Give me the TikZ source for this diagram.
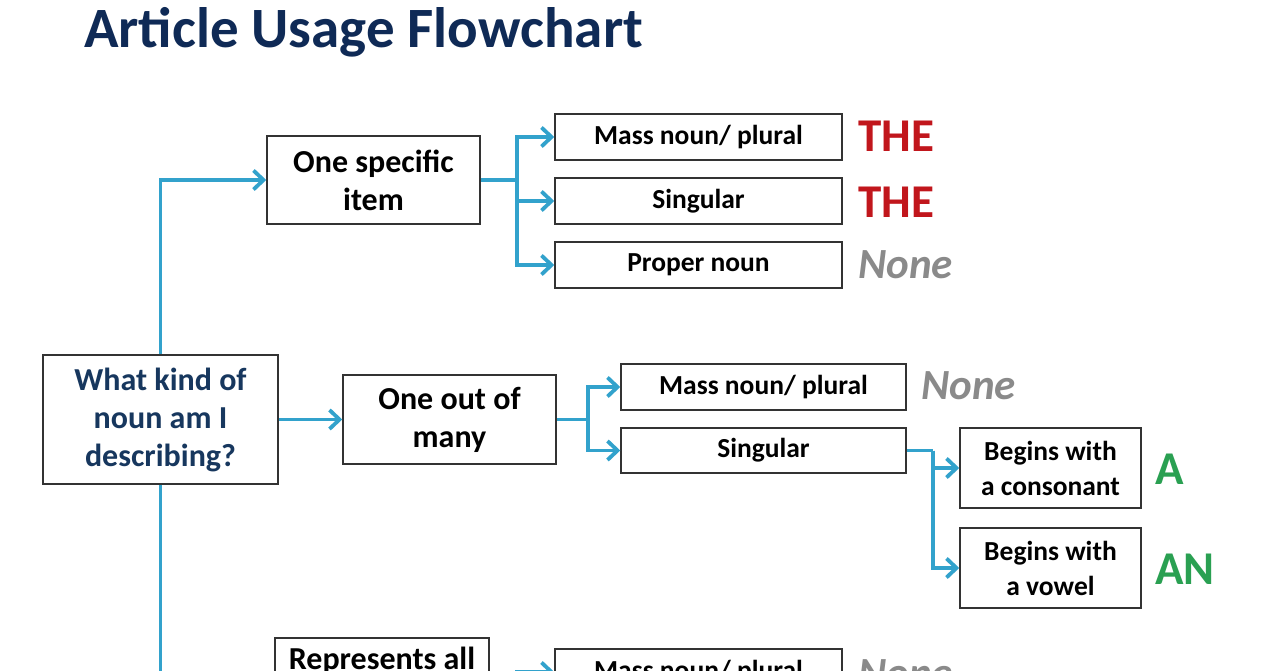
\documentclass[tikz,border=0pt]{standalone}
\usepackage{fontspec}
\setmainfont{Carlito}
\usetikzlibrary{arrows.meta}
\definecolor{navy}{HTML}{0F2A56}
\definecolor{qtext}{HTML}{17375E}
\definecolor{conn}{HTML}{32A2CC}
\definecolor{thered}{HTML}{C1161C}
\definecolor{nonegray}{HTML}{8A8A8A}
\definecolor{agreen}{HTML}{2AA052}
\definecolor{boxline}{HTML}{333333}
\begin{document}
\begin{tikzpicture}[x=1pt,y=-1pt,
  box/.style={draw=boxline,line width=1.5pt,fill=white,inner sep=0pt,align=center},
  big/.style={box,font=\fontsize{32}{38}\selectfont\bfseries},
  small/.style={box,font=\fontsize{27.5}{35}\selectfont\bfseries},
  link/.style={draw=conn,line width=3.8pt},
  arr/.style={link,-{Straight Barb[length=10pt,width=19pt]}},
  answer/.style={anchor=base west,inner sep=0pt,font=\fontsize{47}{47}\selectfont\bfseries},
  nonestyle/.style={anchor=base west,inner sep=0pt,text=nonegray,font=\fontsize{43}{43}\selectfont\bfseries\itshape}
]
\useasboundingbox (0,0) rectangle (1280,671);
\fill[white] (0,0) rectangle (1280,671);
\clip (0,0) rectangle (1280,671);

% title
\node[anchor=base west,inner sep=0pt,text=navy,font=\fontsize{57}{57}\selectfont\bfseries] (title) at (84,48) {Article Usage Flowchart};

% boxes
\node[big,text=qtext,minimum width=235pt,minimum height=129pt] (q) at (160.5,419.5) {What kind of\\noun am I\\describing?};
\node[big,minimum width=213pt,minimum height=88pt] (spec) at (373.5,180) {One specific\\item};
\node[small,minimum width=287pt,minimum height=46pt] (s1) at (698.5,137) {Mass noun/ plural};
\node[small,minimum width=287pt,minimum height=46pt] (s2) at (698.5,201) {Singular};
\node[small,minimum width=287pt,minimum height=46pt] (s3) at (698.5,265) {Proper noun};

\node[big,minimum width=213pt,minimum height=89pt] (many) at (449.5,419.5) {One out of\\many};
\node[small,minimum width=285pt,minimum height=46pt] (m1) at (763.5,387) {Mass noun/ plural};
\node[small,minimum width=285pt,minimum height=45pt] (m2) at (763.5,450.5) {Singular};
\node[small,minimum width=181pt,minimum height=80pt] (c1) at (1050.5,468) {Begins with\\a consonant};
\node[small,minimum width=181pt,minimum height=80pt] (c2) at (1050.5,568) {Begins with\\a vowel};

\node[big,minimum width=214pt,minimum height=90pt] (rep) at (382,683) {Represents all\\\strut};
\node[small,minimum width=287pt,minimum height=46pt] (r1) at (698.5,672) {Mass noun/ plural};

% answers
\node[answer,text=thered] (a1) at (858,152) {THE};
\node[answer,text=thered] (a2) at (858,218) {THE};
\node[nonestyle] (a3) at (858,278) {None};
\node[nonestyle] (a4) at (921,399) {None};
\node[answer,text=agreen] (a5) at (1155,484) {A};
\node[answer,text=agreen] (a6) at (1155,584) {AN};
\node[nonestyle] (a7) at (858,687) {None};

% connectors
\coordinate (j1) at (517,180);
\coordinate (j2) at (588,419.5);
\coordinate (j3) at (933,450.5);
\coordinate (j4) at (517,683);
\coordinate (qdown) at (160.5,720);

\draw[arr] (q.north) |- (spec.west);
\draw[link] (q.south) -- (qdown);
\draw[arr] (q.east) -- (many.west);

\draw[link] (spec.east) -- (j1);
\draw[arr] (j1) |- (s1.west);
\draw[arr] (j1) |- (s2.west);
\draw[arr] (j1) |- (s3.west);

\draw[link] (many.east) -- (j2);
\draw[arr] (j2) |- (m1.west);
\draw[arr] (j2) |- (m2.west);

\draw[link] (m2.east) -- (j3);
\draw[arr] (j3) |- (c1.west);
\draw[arr] (j3) |- (c2.west);

\draw[link] (rep.east) -- (j4);
\draw[arr] (j4) |- (r1.west);
\end{tikzpicture}
\end{document}
